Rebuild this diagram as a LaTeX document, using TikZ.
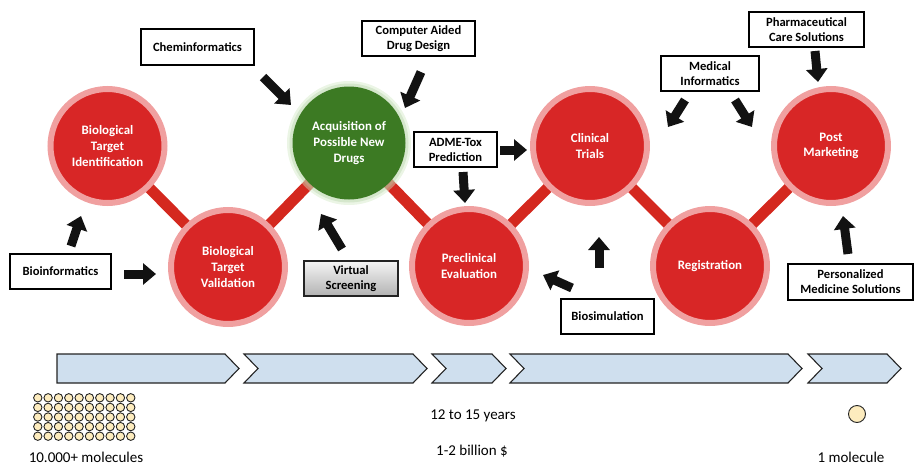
\documentclass[tikz,border=0pt]{standalone}
\usepackage{fontspec}
\setmainfont{Carlito}
\usetikzlibrary{arrows.meta,backgrounds}
\definecolor{cred}{RGB}{216,38,38}
\definecolor{cpink}{RGB}{240,160,160}
\definecolor{cbar}{RGB}{212,40,30}
\definecolor{cgreen}{RGB}{60,122,35}
\definecolor{cglow}{RGB}{210,232,198}
\definecolor{cchev}{RGB}{207,223,238}
\definecolor{ccream}{RGB}{253,236,190}
\definecolor{cline}{RGB}{35,35,35}
\begin{document}
\begin{tikzpicture}[x=1pt,y=-1pt,
  stage/.style={circle, minimum size=114pt, inner sep=0pt, fill=cred, draw=cpink, line width=6pt,
    text=white, align=center, font=\fontsize{12.9}{15.7}\selectfont\bfseries},
  infobox/.style={rectangle, draw=black, line width=1.3pt, fill=white, inner sep=0pt,
    align=center, font=\fontsize{12.6}{15}\selectfont\bfseries},
  barlink/.style={line width=11pt, draw=cbar},
  blockarrow/.style={line width=9pt, draw=black!93, -{Triangle[length=13pt,width=21pt]}},
  chev/.style={fill=cchev, draw=cline, line width=1.1pt, line join=miter},
  mol/.style={fill=ccream, draw=cline, line width=0.9pt},
  plain/.style={font=\fontsize{15}{18}\selectfont, inner sep=0pt}
]
\useasboundingbox (0,0) rectangle (914,466);

% green glow
\fill[cglow, opacity=0.45] (349,143) circle (62);
\fill[cglow!75!cgreen, opacity=0.35] (349,143) circle (59.5);

% stages
\node[stage] (bti) at (107.5,146) {Biological\\Target\\Identification};
\node[stage] (btv) at (228,267) {Biological\\Target\\Validation};
\node[stage, fill=cgreen, draw=none, minimum size=113pt] (acq) at (349,143) {Acquisition of\\Possible New\\Drugs};
\node[stage] (pre) at (469,266) {Preclinical\\Evaluation};
\node[stage] (ct) at (590,146) {Clinical\\Trials};
\node[stage] (reg) at (710,266) {Registration};
\node[stage] (pm) at (831,146) {Post\\Marketing};

\begin{scope}[on background layer]
  \draw[barlink] (bti.center) -- (btv.center);
  \draw[barlink] (btv.center) -- (acq.center);
  \draw[barlink] (acq.center) -- (pre.center);
  \draw[barlink] (pre.center) -- (ct.center);
  \draw[barlink] (ct.center) -- (reg.center);
  \draw[barlink] (reg.center) -- (pm.center);
\end{scope}

% info boxes
\node[infobox, minimum width=113pt, minimum height=36pt] (chem) at (197.5,47) {Cheminformatics};
\node[infobox, minimum width=113pt, minimum height=35pt] (cadd) at (418.5,38.5) {Computer Aided\\Drug Design};
\node[infobox, minimum width=101pt, minimum height=35pt] (bioinf) at (60.5,271.5) {Bioinformatics};
\node[infobox, minimum width=94pt, minimum height=35pt, draw=cline, top color=white!96!black, bottom color=black!30] (vs) at (351,278.5) {Virtual\\Screening};
\node[infobox, minimum width=83pt, minimum height=35pt] (adme) at (455.5,149.5) {ADME-Tox\\Prediction};
\node[infobox, minimum width=98pt, minimum height=35pt] (medinf) at (710,73.5) {Medical\\Informatics};
\node[infobox, minimum width=115pt, minimum height=35pt] (pharm) at (806.5,29.5) {Pharmaceutical\\Care Solutions};
\node[infobox, minimum width=93pt, minimum height=35pt] (biosim) at (607.5,316.5) {Biosimulation};
\node[infobox, minimum width=125pt, minimum height=36pt] (pers) at (850.5,282) {Personalized\\Medicine Solutions};

% block arrows
\coordinate (a1s) at (263,77);  \coordinate (a1e) at (291,105);
\coordinate (a2s) at (421,72);  \coordinate (a2e) at (405,108);
\coordinate (a3s) at (71,246);  \coordinate (a3e) at (81,216);
\coordinate (a4s) at (124,274); \coordinate (a4e) at (156,274);
\coordinate (a5s) at (342,249); \coordinate (a5e) at (321,214);
\coordinate (a6s) at (500,150); \coordinate (a6e) at (527,150);
\coordinate (a7s) at (463,172); \coordinate (a7e) at (465,203);
\coordinate (a8s) at (685,100); \coordinate (a8e) at (668,127);
\coordinate (a9s) at (735,100); \coordinate (a9e) at (752,127);
\coordinate (a10s) at (815,51); \coordinate (a10e) at (818,82);
\coordinate (a11s) at (599,268); \coordinate (a11e) at (599,237);
\coordinate (a12s) at (572,288); \coordinate (a12e) at (543,275);
\coordinate (a13s) at (848,254); \coordinate (a13e) at (843,216);
\foreach \i in {1,...,13}{\draw[blockarrow] (a\i s) -- (a\i e);}

% chevrons
\draw[chev] (57,354) -- (225,354) -- (239,368.5) -- (225,383) -- (57,383) -- cycle;
\draw[chev] (244,354) -- (413,354) -- (427,368.5) -- (413,383) -- (244,383) -- (258,368.5) -- cycle;
\draw[chev] (432,354) -- (492,354) -- (506,368.5) -- (492,383) -- (432,383) -- (446,368.5) -- cycle;
\draw[chev] (510,354) -- (788,354) -- (802,368.5) -- (788,383) -- (510,383) -- (524,368.5) -- cycle;
\draw[chev] (808,354) -- (887,354) -- (901,368.5) -- (887,383) -- (808,383) -- (822,368.5) -- cycle;

% molecules
\foreach \i in {0,...,9}{
  \foreach \j in {0,...,4}{
    \draw[mol] (37.8+10.33*\i, 397.8+9.6*\j) circle (4.2);
  }
}
\draw[mol] (857,414) circle (8.5);

% texts
\node[plain] (tmany) at (86,457) {10.000+ molecules};
\node[plain] (tyears) at (473,416) {12 to 15 years};
\node[plain] (tcost) at (472,451) {1-2 billion \$};
\node[plain] (tone) at (851,457) {1 molecule};
\end{tikzpicture}
\end{document}
